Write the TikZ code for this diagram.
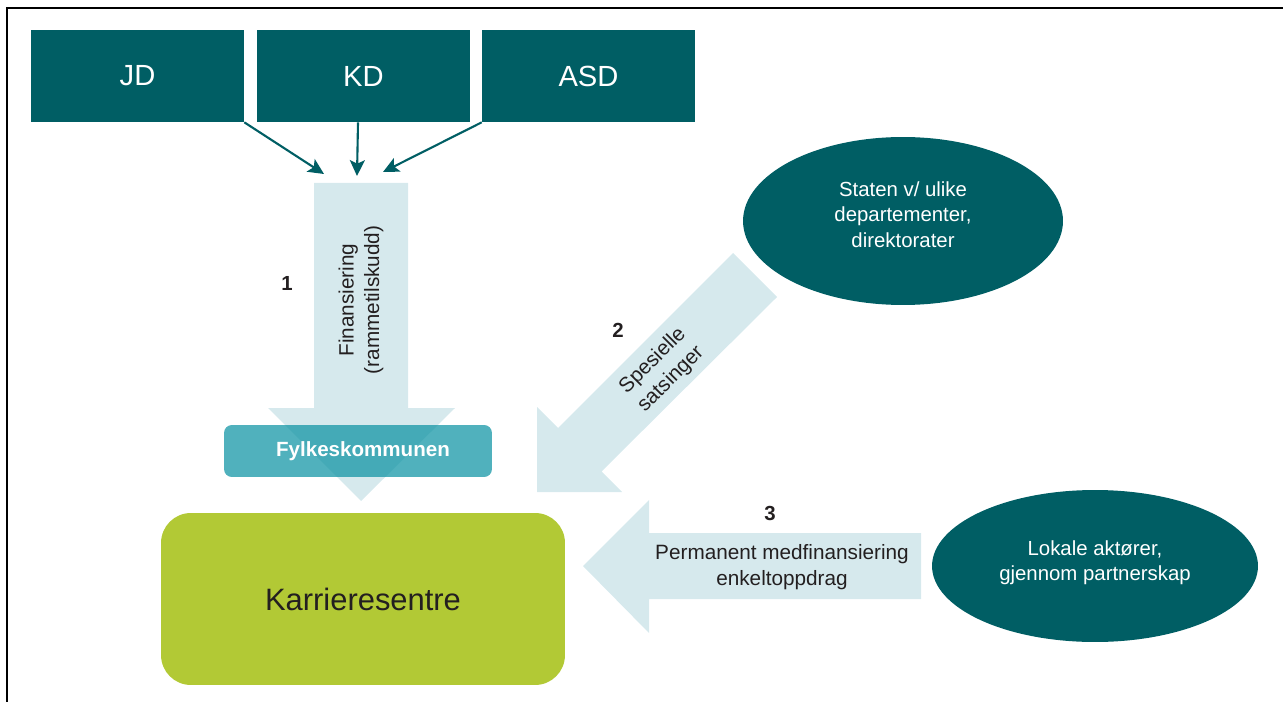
\documentclass[tikz,border=0pt]{standalone}
\usepackage{fontspec}
\setmainfont{Liberation Sans}
\usetikzlibrary{shapes.geometric, arrows.meta}
\definecolor{deepteal}{HTML}{005E64}
\definecolor{paleblue}{HTML}{D6E9ED}
\definecolor{lime}{HTML}{B2C935}
\definecolor{midteal}{HTML}{0C93A3}
\definecolor{inkgrey}{HTML}{231F20}
\tikzstyle{dept} = [rectangle, fill=deepteal, text=white, minimum width=4.26cm, minimum height=1.84cm, inner sep=0pt, font=\fontsize{16.6}{20}\selectfont]
\tikzstyle{source} = [ellipse, fill=deepteal, inner sep=0pt]
\tikzstyle{sourcetext} = [text=white, align=center, inner sep=0pt, font=\fontsize{11.6}{14.4}\selectfont]
\tikzstyle{flow} = [fill=paleblue]
\tikzstyle{feed} = [draw=deepteal, line width=1.2pt, -{Stealth[length=9pt,width=8.5pt,inset=2pt]}]
\tikzstyle{numtag} = [text=inkgrey, font=\bfseries\fontsize{11.6}{14}\selectfont]
\tikzstyle{flowtext} = [text=inkgrey, align=center, inner sep=0pt, font=\fontsize{11.8}{14.6}\selectfont]

\begin{document}
\begin{tikzpicture}[x=0.02cm, y=-0.02cm]
        \useasboundingbox (0,0) rectangle (1283,702);

        %frame
        \draw [line width=1pt] (1283,8) -- (7,8) -- (7,702);

        %departments
        \node at (137.5,76) [dept] (jd) {JD};
        \node at (363.5,76) [dept] (kd) {KD};
        \node at (588.5,76) [dept] (asd) {ASD};

        %arrows into the funding flow
        \coordinate (jdend) at (324,174);
        \coordinate (kdend) at (357,176);
        \coordinate (asdend) at (383,172);
        \draw [feed] (jd.south east) -- (jdend);
        \draw [feed] ([xshift=-0.11cm]kd.south) -- (kdend);
        \draw [feed] (asd.south west) -- (asdend);

        %block arrows
        \fill [flow] (314,183) -- (408,183) -- (408,408) -- (455,408) -- (361,501) -- (268,408) -- (314,408) -- cycle;
        \fill [flow] (733,253) -- (777,297) -- (601.5,471.5) -- (622,492) -- (537,492) -- (537,407) -- (558,428) -- cycle;
        \fill [flow] (921,533) -- (649,533) -- (649,500) -- (583,566) -- (649,633) -- (649,599) -- (921,599) -- cycle;

        %fylkeskommunen
        \node at (358,451) [rectangle, rounded corners=4.5pt, fill=midteal, fill opacity=0.72, text opacity=1, text=white, minimum width=5.36cm, minimum height=1.04cm, inner sep=0pt, font=\bfseries\fontsize{11.7}{14}\selectfont] (fylke) {\hspace*{0.2cm}Fylkeskommunen};

        %karrieresentre
        \node at (363,599) [rectangle, rounded corners=17pt, fill=lime, text=inkgrey, minimum width=8.08cm, minimum height=3.44cm, inner sep=0pt, font=\fontsize{17.6}{21}\selectfont] (karriere) {Karrieresentre};

        %sources
        \node at (903,221) [source, minimum width=6.4cm, minimum height=3.36cm] (staten) {};
        \node at ([yshift=0.13cm]staten.center) [sourcetext] (statentext) {Staten v/ ulike\\departementer,\\direktorater};
        \node at (1095,566) [source, minimum width=6.52cm, minimum height=3.04cm] (lokale) {};
        \node at ([yshift=0.06cm]lokale.center) [sourcetext] (lokaletext) {Lokale aktører,\\gjennom partnerskap};

        %flow labels
        \node at (287,283) [numtag] (n1) {1};
        \node at (361,300) [flowtext, rotate=90] (f1) {Finansiering\\(rammetilskudd)};
        \node at (618,330) [numtag] (n2) {2};
        \node at (662,370) [flowtext, rotate=45] (f2) {Spesielle\\satsinger};
        \node at (770,513) [numtag] (n3) {3};
        \node at (782,567) [flowtext] (f3) {Permanent medfinansiering\\enkeltoppdrag};

    \end{tikzpicture}
\end{document}
